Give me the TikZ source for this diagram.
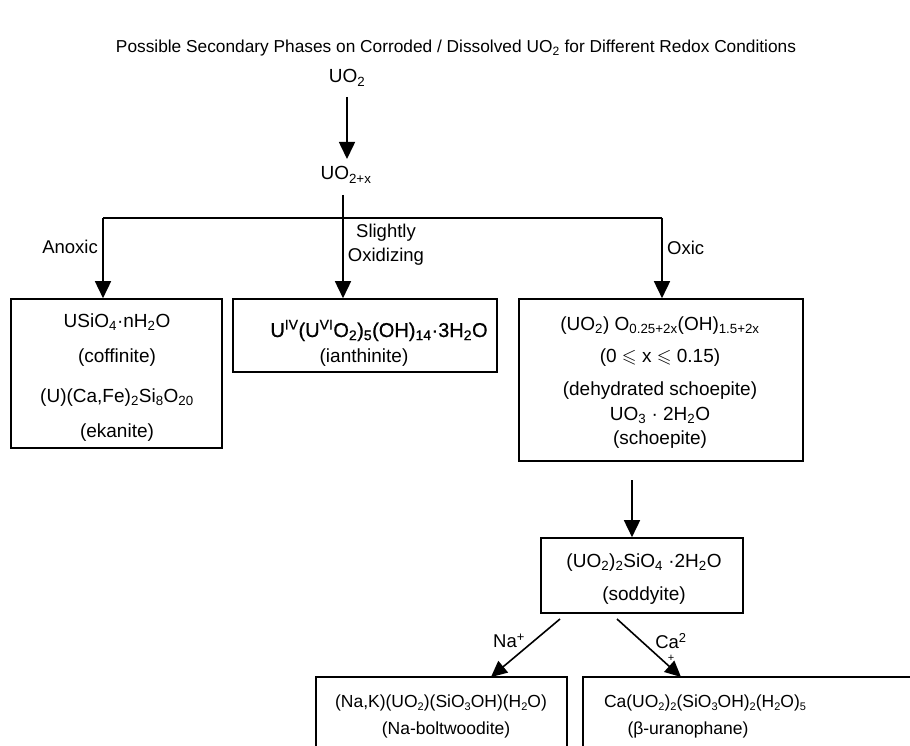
\documentclass[tikz,border=0pt]{standalone}
\usepackage{fontspec}
\setmainfont{Liberation Sans}
\newfontface\semibold{Liberation Sans}[FakeBold=0.7]
\usepackage{amssymb}
\usetikzlibrary{arrows.meta}
\newcommand\dn[1]{\textsubscript{#1}}
\newcommand\upp[1]{\textsuperscript{#1}}
\newcommand\sdn[1]{\raisebox{-0.22em}{\fontsize{11}{11}\selectfont #1}}
\begin{document}
\begin{tikzpicture}[x=1pt,y=-1pt,
  box/.style={draw, line width=1.6pt, inner sep=0pt},
  conn/.style={line width=1.6pt},
  arr/.style={conn, -{Triangle[length=17pt,width=16pt]}},
  txt/.style={font=\fontsize{19}{23}\selectfont, inner sep=0pt, anchor=base},
  stxt/.style={font=\fontsize{17.5}{21}\selectfont, inner sep=0pt, anchor=base},
  lbl/.style={font=\fontsize{18.5}{24}\selectfont, inner sep=0pt},
]
\useasboundingbox (0,0) rectangle (910,746);
\clip (0,0) rectangle (910,746);

% title
\node[font=\fontsize{17.3}{20}\selectfont, inner sep=0pt] (title) at (456,48)
  {Possible Secondary Phases on Corroded / Dissolved UO\dn{2} for Different Redox Conditions};

% top nodes
\node[txt] (uo2) at (347,83) {UO\dn{2}};
\node[txt] (uo2x) at (346,180) {UO\dn{2+x}};
\coordinate (s1) at (347,97);
\coordinate (e1) at (347,159);
\coordinate (s2) at (343,195);
\coordinate (jl) at (103,218);
\coordinate (jr) at (662,218);

% boxes
\node[box, minimum width=211pt, minimum height=149pt] (lb) at (116.5,373.5) {};
\node[box, minimum width=264pt, minimum height=73pt] (mb) at (365,335.5) {};
\node[box, minimum width=284pt, minimum height=162pt] (rb) at (661,380) {};
\node[box, minimum width=202pt, minimum height=75pt] (sb) at (642,575.5) {};
\node[box, minimum width=251pt, minimum height=103pt] (bl) at (441.5,728.5) {};
\node[box, minimum width=377pt, minimum height=103pt] (br) at (771.5,728.5) {};

% left box text
\node[txt] (l1) at (117,327) {USiO\dn{4}·nH\dn{2}O};
\node[txt] (l2) at (117,362) {(coffinite)};
\node[txt] (l3) at (117,402) {(U)(Ca,Fe)\dn{2}Si\dn{8}O\dn{20}};
\node[txt] (l4) at (117,437) {(ekanite)};

% middle box text
\node[txt, font=\fontsize{20}{23}\semibold] (m1) at (379,337) {U\upp{IV}(U\upp{VI}O\dn{2})\dn{5}(OH)\dn{14}·3H\dn{2}O};
\node[txt] (m2) at (364,362) {(ianthinite)};

% right box text
\node[txt] (r1) at (660,330) {(UO\dn{2}) O\dn{0.25+2x}(OH)\dn{1.5+2x}};
\node[txt] (r2) at (660,362) {(0 $\leqslant$ x $\leqslant$ 0.15)};
\node[txt] (r3) at (660,395) {(dehydrated schoepite)};
\node[txt] (r4) at (660,420) {UO\dn{3} · 2H\dn{2}O};
\node[txt] (r5) at (660,444) {(schoepite)};

% soddyite
\node[txt] (s1t) at (644,567) {(UO\dn{2})\dn{2}SiO\dn{4} ·2H\dn{2}O};
\node[txt] (s2t) at (644,600) {(soddyite)};

% bottom boxes
\node[stxt] (b1) at (441,707) {(Na,K)(UO\sdn{2})(SiO\sdn{3}OH)(H\sdn{2}O)};
\node[stxt] (b2) at (446,734) {(Na-boltwoodite)};
\node[stxt] (b3) at (705,707) {Ca(UO\sdn{2})\sdn{2}(SiO\sdn{3}OH)\sdn{2}(H\sdn{2}O)\sdn{5}};
\node[stxt] (b4) at (688,734) {(β-uranophane)};

% labels
\node[lbl, anchor=east] (anoxic) at (98,247) {Anoxic};
\node[lbl, align=center] (slight) at (386,245) {Slightly\\Oxidizing};
\node[lbl, anchor=west] (oxic) at (667,248) {Oxic};
\node[lbl] (na) at (509,641) {Na\upp{+}};
\node[lbl] (ca) at (671,641) {Ca\upp{2}};
\node[lbl, font=\fontsize{11}{12}\selectfont] (caplus) at (671,658) {+};

% connectors
\draw[arr] (s1) -- (e1);
\draw[conn] (jl) -- (jr);
\draw[arr] (s2) -- (mb.north -| s2);
\draw[arr] (jl) -- (lb.north -| jl);
\draw[arr] (jr) -- (rb.north -| jr);
\coordinate (s3) at (632,480);
\draw[arr] (s3) -- (sb.north -| s3);
\coordinate (d1) at (560,619);
\coordinate (d2) at (617,619);
\coordinate (t1) at (491,677);
\coordinate (t2) at (681,677);
\draw[conn, -{Triangle[length=16pt,width=15pt]}] (d1) -- (t1);
\draw[conn, -{Triangle[length=16pt,width=15pt]}] (d2) -- (t2);
\end{tikzpicture}
\end{document}
